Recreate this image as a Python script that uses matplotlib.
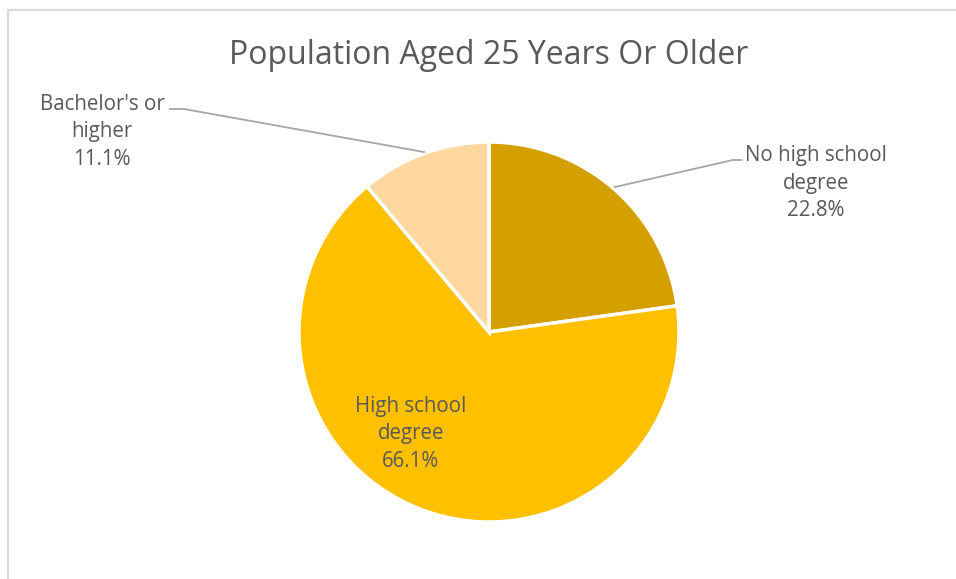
import matplotlib
matplotlib.use("Agg")
import matplotlib.pyplot as plt
from matplotlib.lines import Line2D

categories = ["No high school\ndegree", "High school\ndegree", "Bachelor's or\nhigher"]
values = [22.8, 66.1, 11.1]
colors = ["#D4A000", "#FFC000", "#FFD8A0"]
title = "Population Aged 25 Years Or Older"

W, H = 956, 579
plt.rcParams['font.family'] = ['Open Sans', 'DejaVu Sans']
fig = plt.figure(figsize=(W / 100, H / 100), dpi=100)
ax = fig.add_axes([0, 0, 1, 1])
ax.set_xlim(0, W)
ax.set_ylim(0, H)
ax.axis('off')

cx, cy, r = 489, H - 332, 190
ax.pie(values, colors=colors, startangle=90, counterclock=False,
       center=(cx, cy), radius=r, frame=False,
       wedgeprops=dict(edgecolor='white', linewidth=2.5))
ax.set_xlim(0, W)
ax.set_ylim(0, H)
ax.set_aspect('equal')

txt = "#595959"
fs = 14.8
def lab(i, x, y):
    ax.text(x, H - y, f"{categories[i]}\n{values[i]:.1f}%", ha='center', va='center',
            fontsize=fs, color=txt, linespacing=1.42)

lab(0, 816, 183)
lab(1, 411, 434)
lab(2, 102, 132)

lc = "#A6A6A6"
ax.add_line(Line2D([170, 184, 424], [H - 109, H - 109, H - 152], color=lc, lw=1.3))
ax.add_line(Line2D([615, 733, 741], [H - 187, H - 160, H - 160], color=lc, lw=1.3))

ax.text(489, H - 55, title, ha='center', va='center', fontsize=23, color=txt)

# chart-area border (light gray)
ax.add_line(Line2D([8.5, 8.5, W + 5], [-5, H - 10, H - 10], color="#D9D9D9", lw=1.5))

fig.savefig("out.png", dpi=100)
